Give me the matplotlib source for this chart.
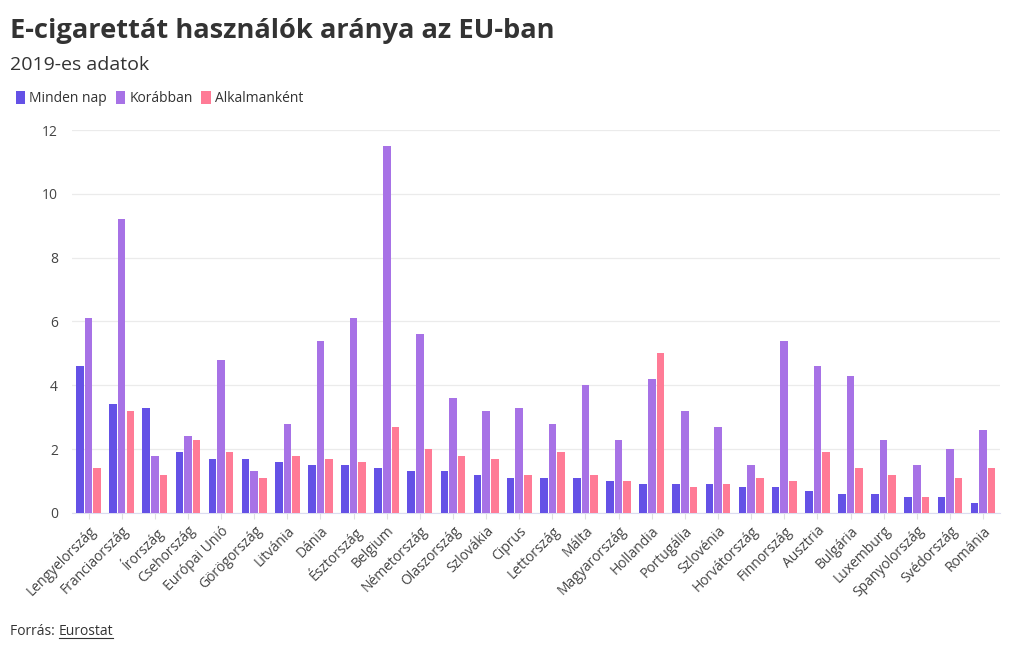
import numpy as np
import matplotlib.pyplot as plt
from matplotlib.patches import Patch
from matplotlib.lines import Line2D

plt.rcParams['font.family'] = ['Open Sans', 'DejaVu Sans']

countries = ['Lengyelország', 'Franciaország', 'Írország', 'Csehország', 'Európai Unió',
             'Görögország', 'Litvánia', 'Dánia', 'Észtország', 'Belgium', 'Németország',
             'Olaszország', 'Szlovákia', 'Ciprus', 'Lettország', 'Málta', 'Magyarország',
             'Hollandia', 'Portugália', 'Szlovénia', 'Horvátország', 'Finnország',
             'Ausztria', 'Bulgária', 'Luxemburg', 'Spanyolország', 'Svédország', 'Románia']
minden_nap = [4.6, 3.4, 3.3, 1.9, 1.7, 1.7, 1.6, 1.5, 1.5, 1.4, 1.3, 1.3, 1.2, 1.1,
              1.1, 1.1, 1.0, 0.9, 0.9, 0.9, 0.8, 0.8, 0.7, 0.6, 0.6, 0.5, 0.5, 0.3]
korabban = [6.1, 9.2, 1.8, 2.4, 4.8, 1.3, 2.8, 5.4, 6.1, 11.5, 5.6, 3.6, 3.2, 3.3,
            2.8, 4.0, 2.3, 4.2, 3.2, 2.7, 1.5, 5.4, 4.6, 4.3, 2.3, 1.5, 2.0, 2.6]
alkalmankent = [1.4, 3.2, 1.2, 2.3, 1.9, 1.1, 1.8, 1.7, 1.6, 2.7, 2.0, 1.8, 1.7, 1.2,
                1.9, 1.2, 1.0, 5.0, 0.8, 0.9, 1.1, 1.0, 1.9, 1.4, 1.2, 0.5, 1.1, 1.4]

series = [('Minden nap', minden_nap, '#6451e6'),
          ('Korábban', korabban, '#a772e6'),
          ('Alkalmanként', alkalmankent, '#ff7b96')]

fig = plt.figure(figsize=(10.2, 6.5), dpi=100)
ax = fig.add_axes([0.0706, 0.2108, 0.9094, 0.5892])

x = np.arange(len(countries))
w = 0.26
for i, (name, vals, col) in enumerate(series):
    ax.bar(x + (i - 1) * w, vals, width=w * 0.88, color=col, label=name, zorder=3)

ax.set_xlim(-0.5, len(countries) - 0.5)
ax.set_ylim(0, 12)
ax.set_yticks(range(0, 13, 2))
ax.grid(axis='y', color='#ebebeb', linewidth=0.9, zorder=0)
for s in ['top', 'right', 'left']:
    ax.spines[s].set_visible(False)
ax.spines['bottom'].set_color('#dcdcf0')
ax.tick_params(axis='y', length=0, labelsize=10, labelcolor='#444444', pad=10)
ax.tick_params(axis='x', length=4, color='#e0e0e0', labelsize=10, labelcolor='#444444')
ax.set_xticks(x)
ax.set_xticklabels(countries, rotation=45, ha='right', rotation_mode='anchor')

fig.text(0.010, 0.953, 'E-cigarettát használók aránya az EU-ban', fontsize=19.6,
         fontweight='bold', color='#333333', va='center')
fig.text(0.010, 0.900, '2019-es adatok', fontsize=14, color='#333333', va='center')

handles = [Patch(facecolor=c, edgecolor='none') for _, _, c in series]
fig.legend(handles, [n for n, _, _ in series], loc='center left',
           bbox_to_anchor=(0.003, 0.848), ncol=3, frameon=False, fontsize=10,
           handlelength=0.7, handleheight=1.1, handletextpad=0.3,
           columnspacing=0.6, labelcolor='#333333')

fig.text(0.010, 0.023, 'Forrás: ', fontsize=10, color='#333333', va='baseline')
fig.canvas.draw()
r = fig.canvas.get_renderer()
t0 = fig.texts[-1]
bb = t0.get_window_extent(r)
t1 = fig.text(bb.x1 / fig.bbox.width, 0.023, 'Eurostat', fontsize=10,
              color='#333333', va='baseline')
bb1 = t1.get_window_extent(r)
yl = 0.023 - 2.5 / fig.bbox.height
fig.add_artist(Line2D([bb1.x0 / fig.bbox.width, bb1.x1 / fig.bbox.width], [yl, yl],
                      color='#333333', linewidth=0.8))

fig.savefig('out.png', dpi=100)
